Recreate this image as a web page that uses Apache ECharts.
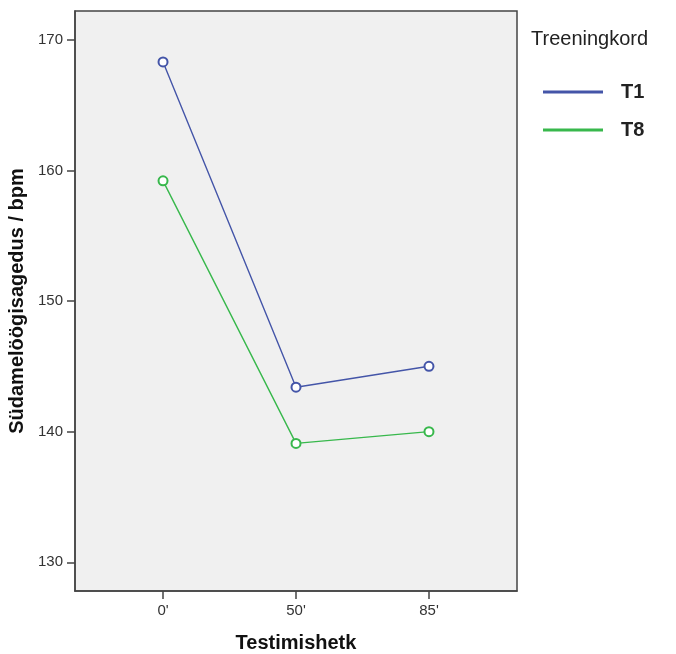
<!DOCTYPE html>
<html>
<head>
<meta charset="utf-8">
<script src="https://cdn.jsdelivr.net/npm/echarts@6/dist/echarts.min.js"></script>
<style>
html,body{margin:0;padding:0;background:#fff;}
#chart{width:676px;height:654px;}
</style>
</head>
<body>
<div id="chart"></div>
<script>
const categories = ["0'", "50'", "85'"];
const seriesNames = ["T1", "T8"];
const t1Values = [168.3, 143.4, 145.0];
const t8Values = [159.2, 139.1, 140.0];
const yTicks = [130, 140, 150, 160, 170];
const yTitle = "Südamelöögisagedus / bpm";
const xTitle = "Testimishetk";
const legendTitle = "Treeningkord";

const idx = categories.map((c, i) => i);
const toPoints = vals => vals.map((v, i) => [i, v]);

const chart = echarts.init(document.getElementById('chart'), null, {renderer: 'canvas'});
const font = "'Liberation Sans', Arial, sans-serif";
const colors = ['#4455A8', '#38B84C'];

chart.setOption({
  animation: false,
  backgroundColor: '#ffffff',
  textStyle: {fontFamily: font},
  title: {
    text: legendTitle,
    left: 531, top: 29,
    padding: 0,
    textStyle: {fontFamily: font, fontSize: 20, fontWeight: 'normal', color: '#222'}
  },
  legend: {
    orient: 'vertical',
    left: 543, top: 82,
    padding: 0,
    itemWidth: 58, itemHeight: 1,
    itemGap: 18,
    icon: 'rect',
    data: seriesNames,
    textStyle: {fontFamily: font, fontSize: 20, fontWeight: 'bold', color: '#222', lineHeight: 20, padding: [0, 0, 0, 14]}
  },
  grid: {
    left: 75, right: 159, top: 11, bottom: 63,
    show: true, backgroundColor: '#F0F0F0', borderColor: '#444', borderWidth: 1.5,
    containLabel: false,
    outerBoundsMode: 'none'
  },
  xAxis: {
    type: 'value',
    min: -0.662, max: 2.662,
    name: xTitle, nameLocation: 'middle', nameGap: 42,
    nameTextStyle: {fontFamily: font, fontSize: 20, fontWeight: 'bold', color: '#111'},
    axisLine: {show: true, onZero: false, lineStyle: {color: '#444', width: 1.5}},
    axisTick: {show: true, customValues: idx, length: 8, lineStyle: {color: '#444', width: 1.5}},
    axisLabel: {customValues: idx, formatter: v => categories[Math.round(v)], fontSize: 15, color: '#333', margin: 12},
    splitLine: {show: false}
  },
  yAxis: {
    type: 'value',
    min: 127.8, max: 172.2,
    name: yTitle, nameLocation: 'middle', nameGap: 42, nameRotate: 90,
    nameTextStyle: {fontFamily: font, fontSize: 20, fontWeight: 'bold', color: '#111'},
    axisLine: {show: true, onZero: false, lineStyle: {color: '#444', width: 1.5}},
    axisTick: {show: true, customValues: yTicks, length: 8, lineStyle: {color: '#444', width: 1.5}},
    axisLabel: {customValues: yTicks, fontSize: 15, color: '#333', margin: 12},
    splitLine: {show: false}
  },
  series: [
    {
      name: seriesNames[0], type: 'line', data: toPoints(t1Values),
      symbol: 'emptyCircle', symbolSize: 9,
      color: colors[0],
      lineStyle: {width: 1.4, color: colors[0]},
      itemStyle: {color: colors[0], borderColor: colors[0], borderWidth: 1.3}
    },
    {
      name: seriesNames[1], type: 'line', data: toPoints(t8Values),
      symbol: 'emptyCircle', symbolSize: 9,
      color: colors[1],
      lineStyle: {width: 1.4, color: colors[1]},
      itemStyle: {color: colors[1], borderColor: colors[1], borderWidth: 1.3}
    }
  ]
});
</script>
</body>
</html>
